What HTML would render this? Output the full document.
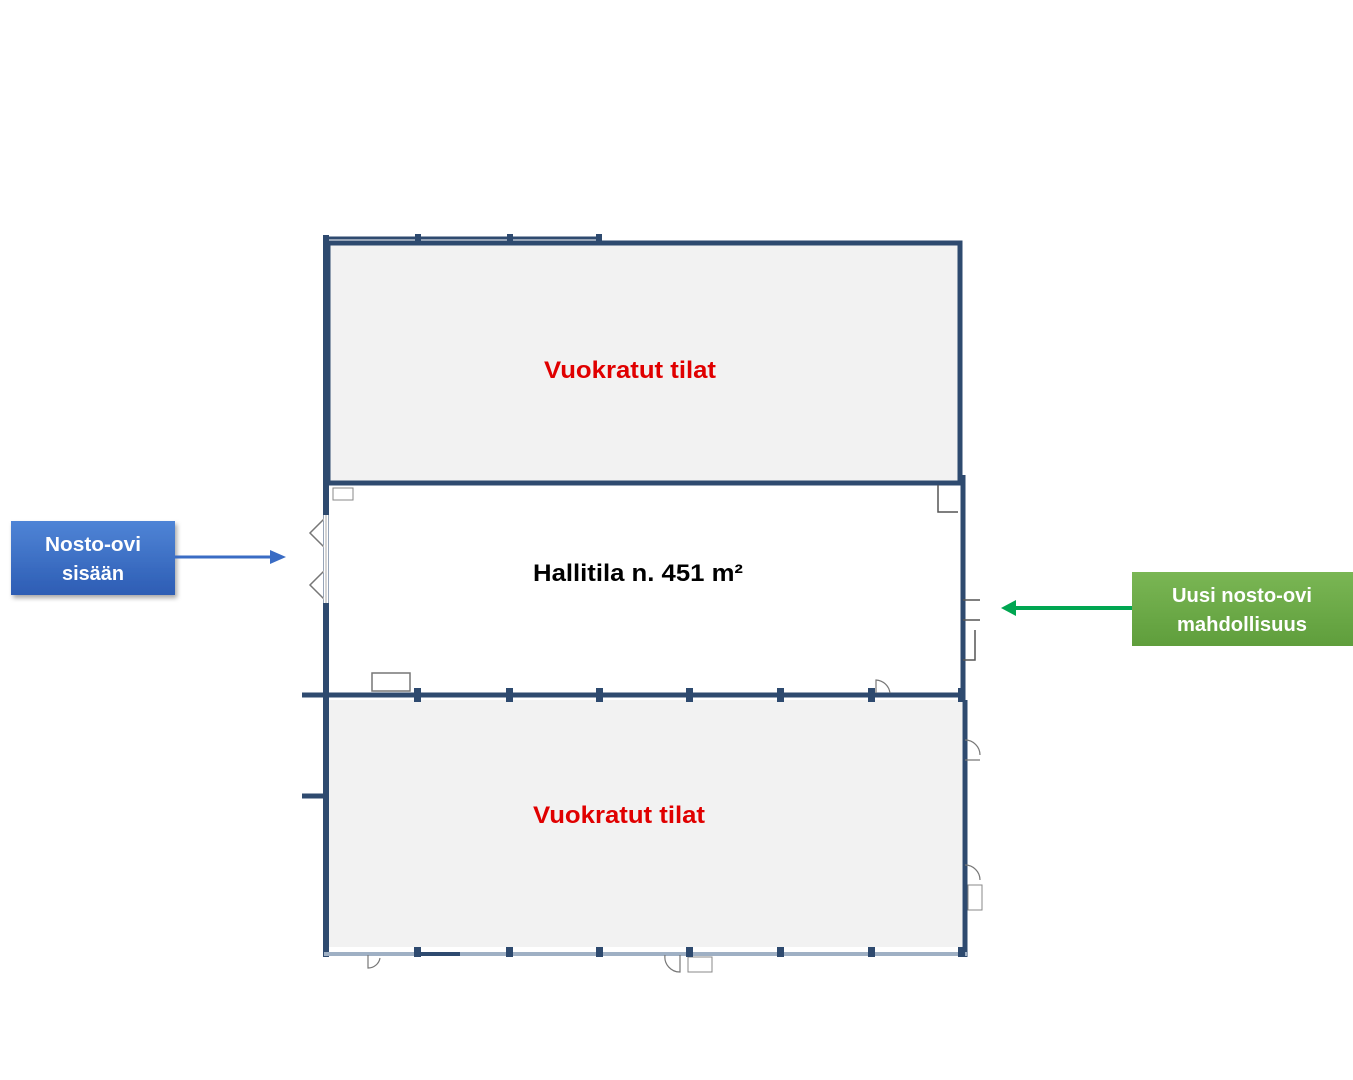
<!DOCTYPE html>
<html><head><meta charset="utf-8"><style>
html,body{margin:0;padding:0;background:#fff;width:1353px;height:1080px;overflow:hidden}
svg{display:block}
text{font-family:"Liberation Sans",sans-serif;font-weight:bold}
</style></head><body>
<svg width="1353" height="1080" viewBox="0 0 1353 1080" xmlns="http://www.w3.org/2000/svg">
<defs>
<linearGradient id="bg" x1="0" y1="0" x2="0" y2="1"><stop offset="0" stop-color="#4f84d6"/><stop offset="1" stop-color="#2d5db4"/></linearGradient>
<linearGradient id="gg" x1="0" y1="0" x2="0" y2="1"><stop offset="0" stop-color="#7ab654"/><stop offset="1" stop-color="#5f9e3c"/></linearGradient>
<filter id="sh" x="-10%" y="-10%" width="130%" height="140%"><feDropShadow dx="2" dy="3" stdDeviation="2.5" flood-color="#000" flood-opacity="0.35"/></filter>
</defs>
<g stroke="#2e4a6f" fill="none">
<!-- top room -->
<rect x="328" y="243" width="632" height="240" fill="#f2f2f2" stroke-width="5"/>
<line x1="326" y1="235" x2="326" y2="700" stroke-width="6"/>
<line x1="326" y1="238" x2="600" y2="238" stroke-width="3"/>
<!-- middle -->
<line x1="963" y1="475" x2="963" y2="700" stroke-width="5"/>
<line x1="302" y1="695" x2="965" y2="695" stroke-width="5"/>
<!-- bottom room -->
<rect x="328" y="700" width="634" height="247" fill="#f2f2f2" stroke="none"/>
<line x1="326" y1="700" x2="326" y2="957" stroke-width="6"/>
<line x1="965" y1="700" x2="965" y2="957" stroke-width="5"/>
<line x1="324" y1="954" x2="967" y2="954" stroke-width="4" stroke="#9fb0c4"/>
<line x1="302" y1="796" x2="326" y2="796" stroke-width="5"/>
<!-- left doors -->
<path d="M326 517 L310 533 L326 549 M326 569 L310 585 L326 601" stroke="#777" stroke-width="1.5"/>
<line x1="326" y1="515" x2="326" y2="603" stroke="#fff" stroke-width="5"/>
<line x1="326" y1="515" x2="326" y2="603" stroke="#aaa" stroke-width="1"/>
<rect x="372" y="673" width="38" height="18" stroke="#777" stroke-width="1.5"/>
<rect x="333" y="488" width="20" height="12" stroke="#888" stroke-width="1"/>
<path d="M938 485 V512 H958" stroke="#555" stroke-width="1.5"/>
<path d="M876 693 V680 A15 15 0 0 1 890 693" stroke="#777" stroke-width="1.2"/>
<path d="M963 600 H980 M963 620 H980 M963 660 H975 V630" stroke="#555" stroke-width="1.5"/>
<path d="M965 740 A15 15 0 0 1 980 755 M965 760 H980 M965 865 A15 15 0 0 1 980 880" stroke="#777" stroke-width="1.2"/>
<path d="M368 955 V968 A12 12 0 0 0 380 958 M665 955 A15 15 0 0 0 680 972 V955" stroke="#777" stroke-width="1.2"/>
<rect x="688" y="957" width="24" height="15" stroke="#888" stroke-width="1"/>
<rect x="968" y="885" width="14" height="25" stroke="#888" stroke-width="1"/>
</g>
<!-- pillars -->
<g fill="#2e4a6f">
<rect x="415" y="234" width="6" height="8"/><rect x="507" y="234" width="6" height="8"/><rect x="596" y="234" width="6" height="8"/>
<rect x="414" y="688" width="7" height="14"/><rect x="506" y="688" width="7" height="14"/><rect x="596" y="688" width="7" height="14"/>
<rect x="686" y="688" width="7" height="14"/><rect x="777" y="688" width="7" height="14"/><rect x="868" y="688" width="7" height="14"/>
<rect x="958" y="688" width="7" height="14"/>
<rect x="414" y="947" width="7" height="10"/><rect x="506" y="947" width="7" height="10"/><rect x="596" y="947" width="7" height="10"/>
<rect x="686" y="947" width="7" height="10"/><rect x="777" y="947" width="7" height="10"/><rect x="868" y="947" width="7" height="10"/>
<rect x="958" y="947" width="7" height="10"/><rect x="420" y="952" width="40" height="4"/>
</g>
<text x="630" y="378" font-size="24" fill="#e00000" text-anchor="middle" textLength="172" lengthAdjust="spacingAndGlyphs">Vuokratut tilat</text>
<text x="619" y="823" font-size="24" fill="#e00000" text-anchor="middle" textLength="172" lengthAdjust="spacingAndGlyphs">Vuokratut tilat</text>
<text x="638" y="581" font-size="24" fill="#000" text-anchor="middle" textLength="210" lengthAdjust="spacingAndGlyphs">Hallitila n. 451 m²</text>
<!-- blue box -->
<rect x="11" y="521" width="164" height="74" fill="url(#bg)" filter="url(#sh)"/>
<text x="93" y="551" font-size="20" fill="#fff" text-anchor="middle" textLength="96" lengthAdjust="spacingAndGlyphs">Nosto-ovi</text>
<text x="93" y="580" font-size="20" fill="#fff" text-anchor="middle" textLength="62" lengthAdjust="spacingAndGlyphs">sisään</text>
<line x1="175" y1="557" x2="272" y2="557" stroke="#3a6cc4" stroke-width="3"/>
<polygon points="270,550 286,557 270,564" fill="#3a6cc4"/>
<!-- green box -->
<rect x="1132" y="572" width="221" height="74" fill="url(#gg)"/>
<text x="1242" y="602" font-size="20" fill="#fff" text-anchor="middle" textLength="140" lengthAdjust="spacingAndGlyphs">Uusi nosto-ovi</text>
<text x="1242" y="631" font-size="20" fill="#fff" text-anchor="middle" textLength="130" lengthAdjust="spacingAndGlyphs">mahdollisuus</text>
<line x1="1132" y1="608" x2="1014" y2="608" stroke="#00a651" stroke-width="4"/>
<polygon points="1016,600 1001,608 1016,616" fill="#00a651"/>
</svg>
</body></html>
